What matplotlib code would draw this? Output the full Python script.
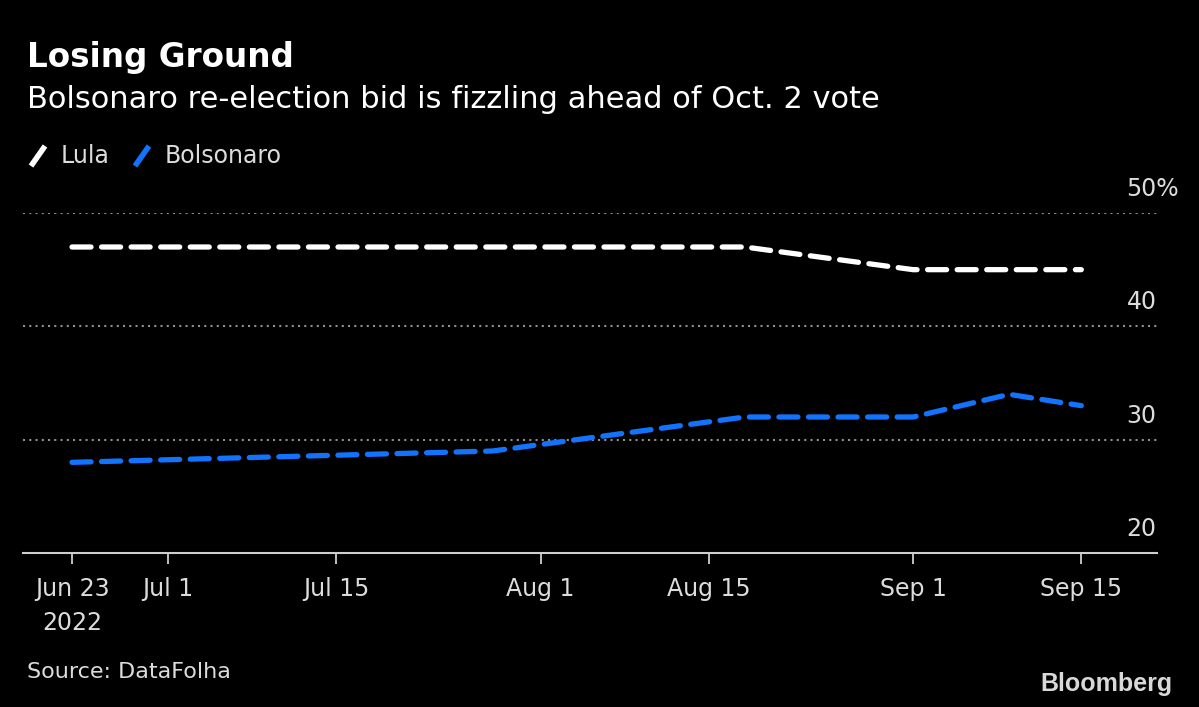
import matplotlib
matplotlib.use("Agg")
import matplotlib.pyplot as plt
import matplotlib.dates as mdates
from matplotlib.lines import Line2D
from matplotlib.transforms import blended_transform_factory
import numpy as np

# poll dates and results (DataFolha)
dates = np.array(["2022-06-23", "2022-07-28", "2022-08-18",
                  "2022-09-01", "2022-09-09", "2022-09-15"], dtype="datetime64[D]")
lula = [47, 47, 47, 45, 45, 45]
bolsonaro = [28, 29, 32, 32, 34, 33]

tick_dates = np.array(["2022-06-23", "2022-07-01", "2022-07-15", "2022-08-01",
                       "2022-08-15", "2022-09-01", "2022-09-15"], dtype="datetime64[D]")
tick_labels = ["Jun 23\n2022", "Jul 1", "Jul 15", "Aug 1", "Aug 15", "Sep 1", "Sep 15"]
y_ticks = [20, 30, 40, 50]
y_labels = ["20", "30", "40", "50%"]

BG = "#000000"
FG = "#dcdcdc"
BLUE = "#1273ff"
plt.rcParams["font.family"] = ["DejaVu Sans"]

W, H = 1199, 707
fig = plt.figure(figsize=(W / 100, H / 100), dpi=100, facecolor=BG)

def fx(px):
    return px / W

def fy(py):
    return 1 - py / H

ax = fig.add_axes([fx(23), fy(553), fx(1157) - fx(23), fy(213) - fy(553)], facecolor=BG)

dnum = mdates.date2num(dates.astype("datetime64[s]").astype(object))
tnum = mdates.date2num(tick_dates.astype("datetime64[s]").astype(object))

ax.plot(dnum, lula, color="white", lw=3.8, dashes=(3.6, 2.0),
        dash_capstyle="round", solid_joinstyle="round", zorder=3)
ax.plot(dnum, bolsonaro, color=BLUE, lw=3.8, dashes=(3.6, 2.0),
        dash_capstyle="round", solid_joinstyle="round", zorder=3)

ax.set_xlim(dnum[0] - 4.08, dnum[-1] + 6.3)
ax.set_ylim(20, 50)

# dotted gridlines
for v in y_ticks[1:]:
    ax.axhline(v, color="#8f8f8f", lw=1.5, linestyle=(0, (1, 2.0)), zorder=1)

trans = blended_transform_factory(ax.transAxes, ax.transData)
for v, lab in zip(y_ticks, y_labels):
    ax.text(0.973, v + 1.05, lab, transform=trans, color=FG, fontsize=17,
            ha="left", va="bottom", clip_on=False)

for s in ["top", "right", "left"]:
    ax.spines[s].set_visible(False)
ax.spines["bottom"].set_color("#cfcfcf")
ax.spines["bottom"].set_linewidth(1.5)
ax.set_yticks([])
ax.set_xticks(tnum)
ax.set_xticklabels(tick_labels, linespacing=1.55)
ax.tick_params(axis="x", colors="#cfcfcf", length=8, width=1.3, pad=9,
               labelsize=17, labelcolor=FG)

# title block
fig.text(fx(27), fy(58), "Losing Ground", color="white", fontsize=23.5,
         fontweight="bold", va="center", ha="left")
fig.text(fx(27), fy(99), "Bolsonaro re-election bid is fizzling ahead of Oct. 2 vote",
         color="white", fontsize=22, va="center", ha="left")

# legend
for x0, col, x_txt, name in [(31, "white", 61, "Lula"), (135, BLUE, 165, "Bolsonaro")]:
    fig.add_artist(Line2D([fx(x0), fx(x0 + 14)], [fy(166), fy(146)], color=col,
                          lw=4, solid_capstyle="butt", transform=fig.transFigure))
    fig.text(fx(x_txt), fy(156), name, color=FG, fontsize=17, va="center", ha="left")

fig.text(fx(27), fy(672), "Source: DataFolha", color=FG, fontsize=16,
         va="center", ha="left")
fig.text(fx(1173), fy(684), "Bloomberg", color="#d8d8d8", fontsize=18,
         fontweight="bold", family=["Liberation Sans", "DejaVu Sans"],
         va="center", ha="right")

fig.savefig("out.png", dpi=100, facecolor=BG)
